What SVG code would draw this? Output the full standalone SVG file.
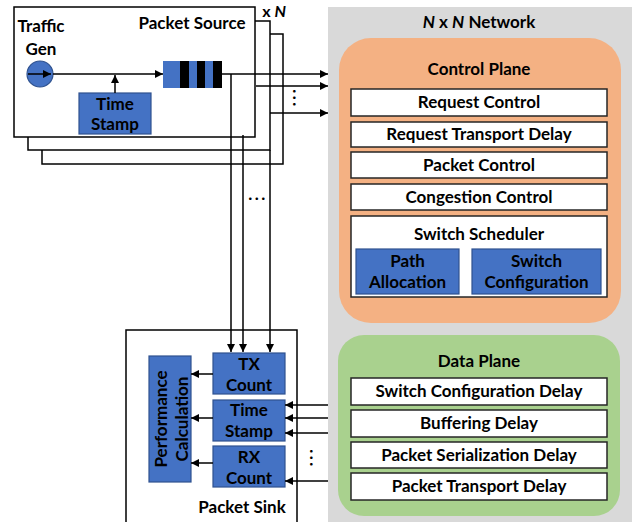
<svg xmlns="http://www.w3.org/2000/svg" width="644" height="522" viewBox="0 0 644 522">
  <defs>
    <marker id="arrow" viewBox="0 0 10 10" refX="10" refY="5" markerWidth="8" markerHeight="8" markerUnits="userSpaceOnUse" orient="auto">
      <path d="M0,0 L10,5 L0,10 Z" fill="#000"/>
    </marker>
    <style>
      text { font-family: Lato, "Open Sans", "Liberation Sans", sans-serif; font-weight: bold; font-size: 17px; fill: #000; text-anchor: middle; }
      .frame { fill: #fff; stroke: #000; stroke-width: 1.5; }
      .blue { fill: #4472c4; stroke: #2f528f; stroke-width: 1.2; }
      .row { fill: #fff; stroke: #262626; stroke-width: 1.5; }
      .wire { fill: none; stroke: #000; stroke-width: 1.5; }
      .arr { fill: none; stroke: #000; stroke-width: 1.5; marker-end: url(#arrow); }
      .dots { font-size: 17px; letter-spacing: 2.5px; }
    </style>
  </defs>

  <!-- Network background -->
  <g id="network">
    <rect x="328" y="7" width="304" height="515" fill="#d9d9d9"/>
    <text x="479" y="28"><tspan font-style="italic">N</tspan> x <tspan font-style="italic">N</tspan> Network</text>
  </g>

  <!-- Control plane -->
  <g id="control-plane">
    <rect x="339" y="38" width="282" height="285" rx="32" fill="#f4b183"/>
    <text x="479" y="75">Control Plane</text>
    <rect class="row" x="351" y="89" width="256" height="27"/>
    <text x="479" y="108">Request Control</text>
    <rect class="row" x="351" y="122" width="256" height="25"/>
    <text x="479" y="140">Request Transport Delay</text>
    <rect class="row" x="351" y="152" width="256" height="26"/>
    <text x="479" y="171">Packet Control</text>
    <rect class="row" x="351" y="184" width="256" height="26"/>
    <text x="479" y="203">Congestion Control</text>
    <g id="switch-scheduler">
      <rect class="row" x="351" y="216" width="256" height="81"/>
      <text x="479" y="240">Switch Scheduler</text>
      <g id="path-allocation">
        <rect class="blue" x="356" y="249" width="103" height="45"/>
        <text x="407.5" y="267">Path</text>
        <text x="407.5" y="288">Allocation</text>
      </g>
      <g id="switch-configuration">
        <rect class="blue" x="472" y="249" width="129" height="45"/>
        <text x="536.5" y="267">Switch</text>
        <text x="536.5" y="288">Configuration</text>
      </g>
    </g>
  </g>

  <!-- Data plane -->
  <g id="data-plane">
    <rect x="338" y="335" width="282" height="181" rx="26" fill="#a9d18e"/>
    <text x="479" y="367">Data Plane</text>
    <rect class="row" x="351" y="378" width="256" height="27"/>
    <text x="479" y="397">Switch Configuration Delay</text>
    <rect class="row" x="351" y="410" width="256" height="27"/>
    <text x="479" y="429">Buffering Delay</text>
    <rect class="row" x="351" y="442" width="256" height="26"/>
    <text x="479" y="461">Packet Serialization Delay</text>
    <rect class="row" x="351" y="473" width="256" height="27"/>
    <text x="479" y="492">Packet Transport Delay</text>
  </g>

  <!-- Packet source (stacked copies) -->
  <g id="packet-source">
    <rect class="frame" x="42" y="34" width="241" height="130"/>
    <rect class="frame" x="28" y="21" width="242" height="129"/>
    <rect class="frame" x="14" y="7" width="241" height="130"/>
    <text x="192" y="29">Packet Source</text>
    <text x="274" y="17" style="font-size:16px">x <tspan font-style="italic">N</tspan></text>
    <g id="traffic-gen">
      <text x="41" y="32">Traffic</text>
      <text x="41" y="55">Gen</text>
      <circle class="blue" cx="40" cy="74" r="13"/>
      <line class="arr" x1="28" y1="74" x2="51" y2="74"/>
    </g>
    <g id="source-time-stamp">
      <rect class="blue" x="79" y="93" width="72" height="41"/>
      <text x="115" y="110">Time</text>
      <text x="115" y="130">Stamp</text>
    </g>
    <g id="queue">
      <rect x="163" y="61" width="59" height="27" fill="#4472c4"/>
      <rect x="180" y="61" width="9" height="27" fill="#000"/>
      <rect x="197" y="61" width="8" height="27" fill="#000"/>
      <rect x="213" y="61" width="9" height="27" fill="#000"/>
    </g>
  </g>

  <!-- Packet sink -->
  <g id="packet-sink">
    <rect x="126" y="330" width="171" height="192" fill="#fff"/>
    <path class="wire" d="M126,522 V330 H297 V522"/>
    <text x="242" y="513">Packet Sink</text>
    <g id="performance-calculation">
      <rect class="blue" x="149" y="356" width="42" height="126"/>
      <text transform="translate(167,419) rotate(-90)">Performance</text>
      <text transform="translate(188,419) rotate(-90)">Calculation</text>
    </g>
    <g id="tx-count">
      <rect class="blue" x="213" y="353" width="72" height="41"/>
      <text x="249" y="370">TX</text>
      <text x="249" y="391">Count</text>
    </g>
    <g id="sink-time-stamp">
      <rect class="blue" x="213" y="400" width="72" height="41"/>
      <text x="249" y="416">Time</text>
      <text x="249" y="437">Stamp</text>
    </g>
    <g id="rx-count">
      <rect class="blue" x="213" y="446" width="72" height="41"/>
      <text x="249" y="463">RX</text>
      <text x="249" y="484">Count</text>
    </g>
  </g>

  <!-- Connectors -->
  <g id="connectors">
    <!-- inside packet source -->
    <line class="arr" x1="53" y1="74" x2="163" y2="74"/>
    <line class="arr" x1="115" y1="93" x2="115" y2="75"/>
    <!-- source outputs toward the network -->
    <line class="arr" x1="222" y1="74" x2="328" y2="74"/>
    <line class="arr" x1="256" y1="86" x2="328" y2="86"/>
    <line class="arr" x1="270" y1="113" x2="328" y2="113"/>
    <text class="dots" transform="translate(293,99) rotate(90)">...</text>
    <!-- source outputs down to the sink -->
    <line class="arr" x1="231" y1="74" x2="231" y2="352"/>
    <line class="arr" x1="243" y1="135" x2="243" y2="352"/>
    <line class="arr" x1="270" y1="150" x2="270" y2="352"/>
    <text class="dots" x="258" y="200">...</text>
    <!-- sink internal -->
    <line class="arr" x1="213" y1="374" x2="191" y2="374"/>
    <line class="arr" x1="213" y1="418" x2="191" y2="418"/>
    <line class="arr" x1="213" y1="463" x2="191" y2="463"/>
    <!-- network outputs into the sink -->
    <line class="arr" x1="328" y1="405" x2="285" y2="405"/>
    <line class="arr" x1="328" y1="418" x2="285" y2="418"/>
    <line class="arr" x1="328" y1="433" x2="285" y2="433"/>
    <line class="arr" x1="328" y1="481" x2="285" y2="481"/>
    <text class="dots" transform="translate(310,459) rotate(90)">...</text>
  </g>
</svg>
